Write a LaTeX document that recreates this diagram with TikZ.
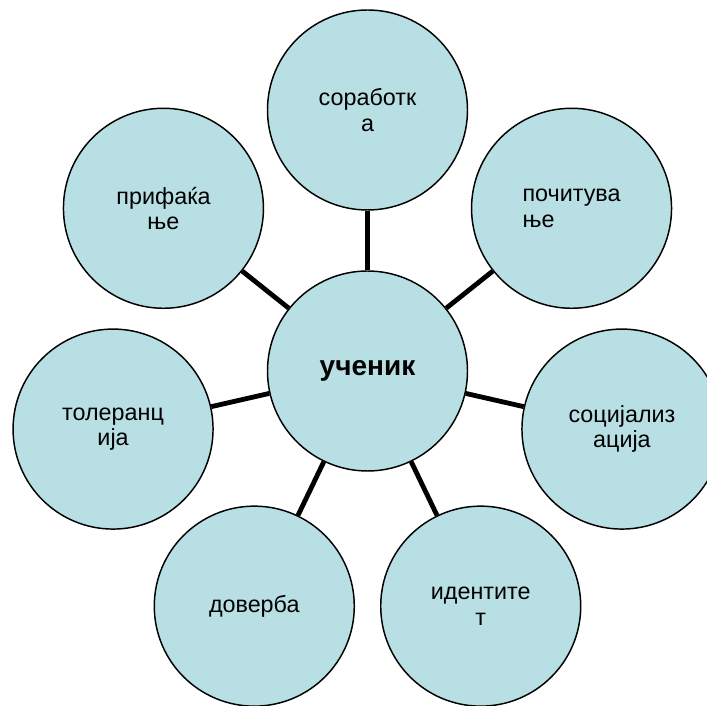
\documentclass[tikz,border=0pt]{standalone}
\usepackage{fontspec}
\setmainfont{Liberation Sans}
\usetikzlibrary{backgrounds}
\definecolor{krugplava}{RGB}{184,223,227}
\tikzset{
  krug/.style = {circle, draw=black, line width=1.1pt, fill=krugplava,
    minimum size=150pt, inner sep=0pt, align=center,
    font=\fontsize{17.5}{19}\selectfont},% pojam okolu ucenikot
  krug_c/.style = {krug, font=\fontsize{21}{24}\selectfont\bfseries},% centralen krug
  vrska/.style = {line width=3.6pt}% vrska megju krugovite
}

\begin{document}
\begin{tikzpicture}[x=0.75pt,y=0.75pt]
    \useasboundingbox (0,0) rectangle (707,706);
    \node [krug_c] (ucenik) at (367.5,335) {ученик};
    \foreach \ime/\agol/\poramni/\tekst in {
        sorabotka/90/center/{соработк\\а},
        prifakjanje/141.43/center/{прифаќа\\ње},
        tolerancija/192.86/center/{толеранц\\ија},
        doverba/244.29/center/{доверба},
        identitet/295.71/center/{идентите\\т},
        socijalizacija/347.14/center/{социјализ\\ација},
        pocituvanje/38.57/left/{почитува\\ње}}
      \node [krug, align=\poramni] (\ime) at ([shift={(\agol:261)}]ucenik.center) {\tekst};
    \begin{scope}[on background layer]
      \foreach \ime in {sorabotka,prifakjanje,tolerancija,doverba,identitet,socijalizacija,pocituvanje}
        \draw [vrska] (ucenik) -- (\ime);
    \end{scope}
\end{tikzpicture}
\end{document}
